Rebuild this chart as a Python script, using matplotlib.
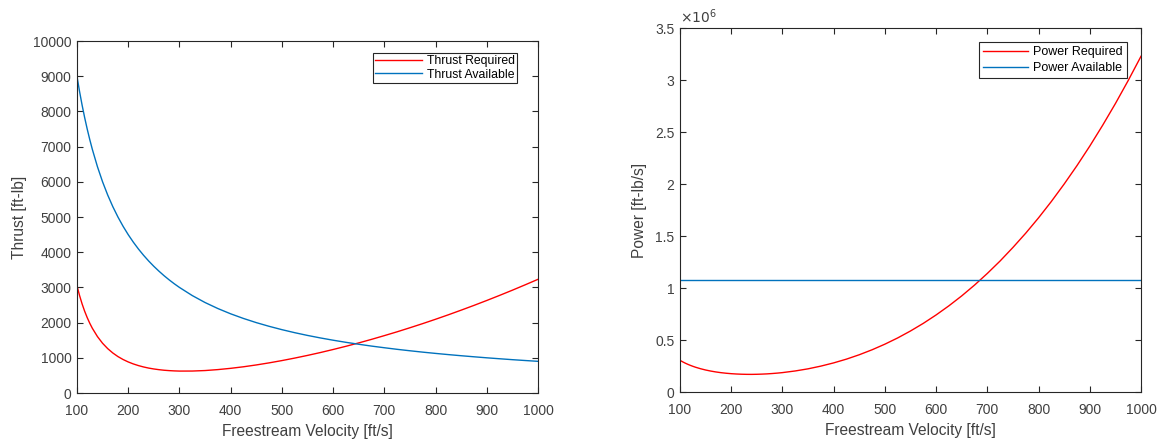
import numpy as np
import matplotlib
matplotlib.use('Agg')
import matplotlib.pyplot as plt
from matplotlib.ticker import FuncFormatter, MultipleLocator

plt.rcParams['font.family'] = ['Liberation Sans', 'DejaVu Sans']

# values
velocity = [100, 105, 110, 115, 120, 125, 130, 140, 150, 160, 170, 180, 190, 200,
            210, 220, 230, 240, 250, 260, 270, 280, 290, 300, 325, 350, 375, 400,
            425, 450, 475, 500, 525, 550, 575, 600, 625, 650, 675, 700, 725, 750,
            775, 800, 825, 850, 875, 900, 925, 950, 975, 1000]
thrust_required = [3050, 2773, 2533, 2324, 2142, 1982, 1840, 1603, 1413, 1261, 1137, 1035, 952, 883,
                   826, 779, 740, 708, 683, 663, 647, 636, 628, 623, 624, 638, 665, 701,
                   745, 797, 856, 921, 992, 1068, 1149, 1236, 1327, 1423, 1524, 1630, 1739, 1854,
                   1972, 2095, 2222, 2354, 2489, 2629, 2773, 2921, 3074, 3230]
thrust_available = [9000, 8571, 8182, 7826, 7500, 7200, 6923, 6429, 6000, 5625, 5294, 5000, 4737, 4500,
                    4286, 4091, 3913, 3750, 3600, 3462, 3333, 3214, 3103, 3000, 2769, 2571, 2400, 2250,
                    2118, 2000, 1895, 1800, 1714, 1636, 1565, 1500, 1440, 1385, 1333, 1286, 1241, 1200,
                    1161, 1125, 1091, 1059, 1029, 1000, 973, 947, 923, 900]
power_required = [0.3050, 0.2912, 0.2786, 0.2673, 0.2570, 0.2478, 0.2392, 0.2244, 0.2120, 0.2018,
                  0.1933, 0.1863, 0.1809, 0.1766, 0.1735, 0.1714, 0.1702, 0.1699, 0.1708, 0.1724,
                  0.1747, 0.1781, 0.1821, 0.1869, 0.2028, 0.2233, 0.2494, 0.2804, 0.3166, 0.3587,
                  0.4066, 0.4605, 0.5205, 0.5874, 0.6608, 0.7416, 0.8296, 0.9250, 1.0288, 1.141,
                  1.2611, 1.391, 1.5285, 1.676, 1.8334, 2.001, 2.1782, 2.366, 2.5653, 2.775,
                  2.9969, 3.230]  # x 1e6
power_available = [1.08] * len(velocity)  # x 1e6

RED = '#ff0000'
BLUE = '#0072bd'
AX_COL = '#262626'
TXT_COL = '#404040'

fig = plt.figure(figsize=(11.59, 4.4), dpi=100)
ax1 = fig.add_axes([0.0664, 0.1068, 0.3978, 0.80])
ax2 = fig.add_axes([0.5867, 0.109, 0.3978, 0.827])


def style(ax):
    for s in ax.spines.values():
        s.set_color(AX_COL)
        s.set_linewidth(0.8)
    ax.tick_params(direction='in', length=4, width=0.8, top=True, right=True,
                   color=AX_COL, labelcolor=TXT_COL, labelsize=10, pad=4)
    ax.tick_params(axis='x', pad=8)
    ax.set_xlim(100, 1000)
    ax.xaxis.set_major_locator(MultipleLocator(100))
    ax.set_xlabel('Freestream Velocity [ft/s]', fontsize=11.2, color=TXT_COL, labelpad=4)


# thrust
ax1.plot(velocity, thrust_required, color=RED, lw=1, label='Thrust Required')
ax1.plot(velocity, thrust_available, color=BLUE, lw=1, label='Thrust Available')
style(ax1)
ax1.set_ylim(0, 10000)
ax1.yaxis.set_major_locator(MultipleLocator(1000))
ax1.set_ylabel('Thrust [ft-lb]', fontsize=11.2, color=TXT_COL, labelpad=4)

# power
ax2.plot(velocity, [p * 1e6 for p in power_required], color=RED, lw=1, label='Power Required')
ax2.plot(velocity, [p * 1e6 for p in power_available], color=BLUE, lw=1, label='Power Available')
style(ax2)
ax2.set_ylim(0, 3.5e6)
ax2.yaxis.set_major_locator(MultipleLocator(0.5e6))
ax2.yaxis.set_major_formatter(FuncFormatter(lambda v, p: '%g' % (v / 1e6)))
ax2.set_ylabel('Power [ft-lb/s]', fontsize=11.2, color=TXT_COL, labelpad=6)
ax2.text(0.0, 1.006, r'$\times 10^6$', transform=ax2.transAxes, fontsize=10,
         color=TXT_COL, ha='left', va='bottom')

leg1 = ax1.legend(loc='upper right', bbox_to_anchor=(0.955, 0.966), fontsize=8.8, fancybox=False,
                  framealpha=1, edgecolor=AX_COL, handlelength=3.8, borderpad=0.2,
                  labelspacing=0.1, handletextpad=0.4, borderaxespad=0)
leg2 = ax2.legend(loc='upper right', bbox_to_anchor=(0.97, 0.962), fontsize=9, fancybox=False,
                  framealpha=1, edgecolor=AX_COL, handlelength=3.6, borderpad=0.35,
                  labelspacing=0.3, handletextpad=0.4, borderaxespad=0)
for leg in (leg1, leg2):
    leg.get_frame().set_linewidth(0.8)

fig.savefig('out.png', dpi=100)
